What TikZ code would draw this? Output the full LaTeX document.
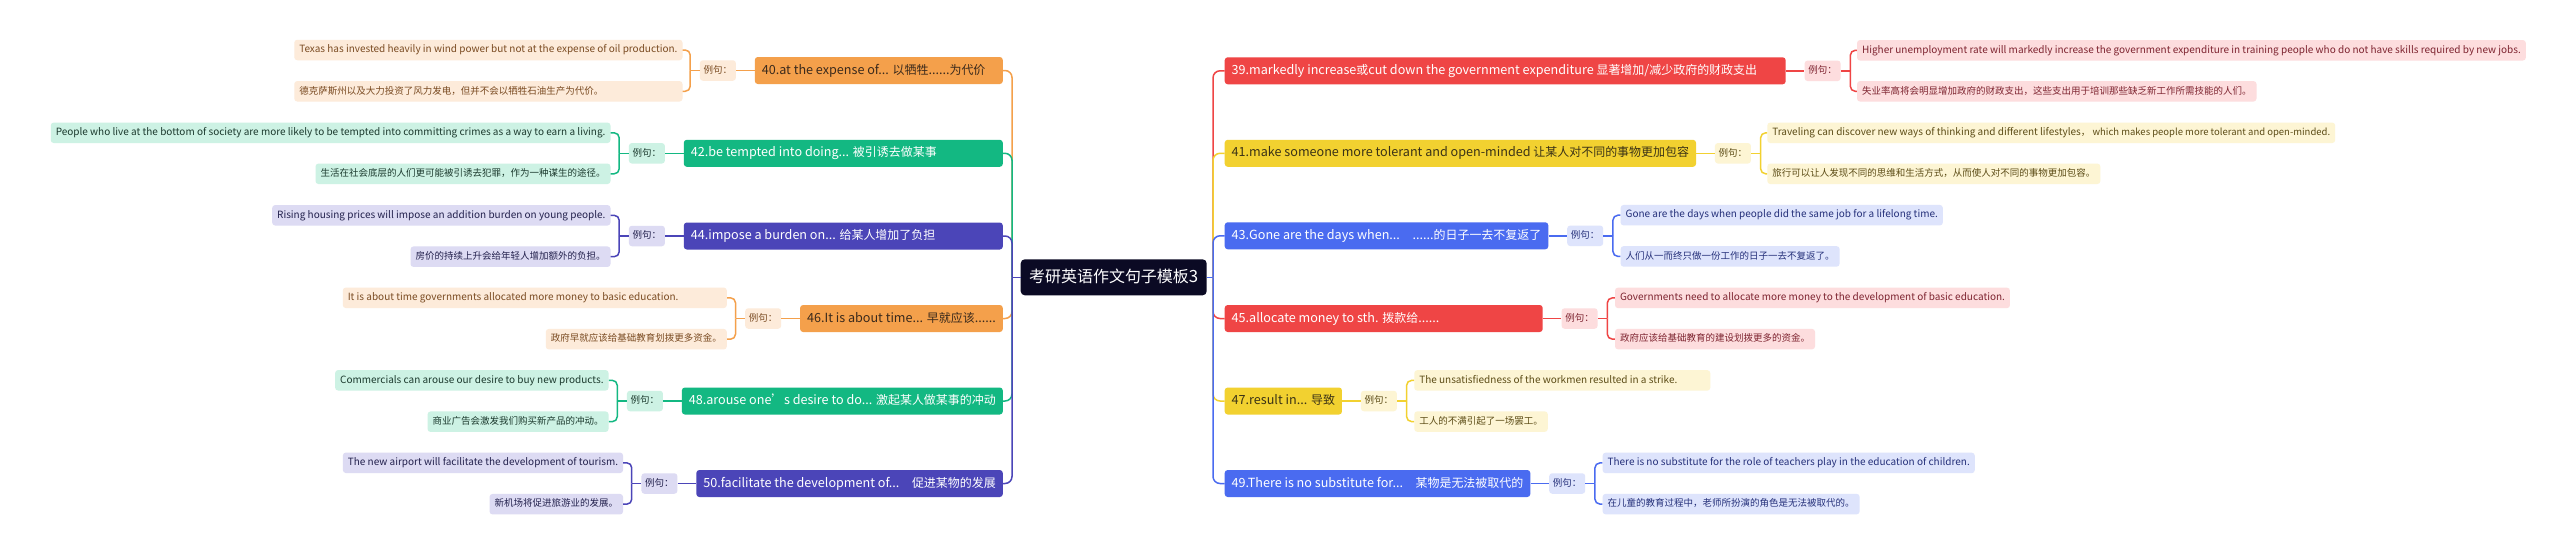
\documentclass[tikz,border=0pt]{standalone}
\usepackage{fontspec}
\setmainfont{Noto Sans CJK SC}
\newfontfamily\cjkfont{Noto Sans CJK SC}[Scale=0.95]
\newfontfamily\latfont{Noto Sans CJK SC}
\XeTeXinterchartokenstate=1
\newXeTeXintercharclass\CJKclass
\newcount\cjkc
\def\setcjkrange#1#2{\cjkc=#1\relax\loop\XeTeXcharclass\cjkc=\CJKclass\relax\ifnum\cjkc<#2\relax\advance\cjkc by 1\relax\repeat}
\setcjkrange{"4E00}{"9FFF}
\setcjkrange{"3000}{"303F}
\setcjkrange{"FF00}{"FFEF}
\XeTeXinterchartoks 0 \CJKclass = {\cjkfont}
\XeTeXinterchartoks 4095 \CJKclass = {\cjkfont}
\XeTeXinterchartoks \CJKclass 0 = {\latfont}
\usetikzlibrary{calc}
\definecolor{cOr}{HTML}{F4A04B}
\definecolor{cOrL}{HTML}{FDEBDA}
\definecolor{cOrT}{HTML}{7A4B22}
\definecolor{cOrN}{HTML}{3B2A1C}
\definecolor{cGr}{HTML}{13B882}
\definecolor{cGrL}{HTML}{CDF2E4}
\definecolor{cGrT}{HTML}{1C3A2E}
\definecolor{cIn}{HTML}{4B45B8}
\definecolor{cInL}{HTML}{DDDBF3}
\definecolor{cInT}{HTML}{23214D}
\definecolor{cRe}{HTML}{EF4545}
\definecolor{cReL}{HTML}{FDDDDE}
\definecolor{cReT}{HTML}{7E2430}
\definecolor{cYe}{HTML}{F2D130}
\definecolor{cYeL}{HTML}{FDF5D4}
\definecolor{cYeT}{HTML}{5C4C16}
\definecolor{cYeN}{HTML}{3A3216}
\definecolor{cBl}{HTML}{4A6BF0}
\definecolor{cBlL}{HTML}{DEE4FC}
\definecolor{cBlT}{HTML}{25307A}
\definecolor{cCe}{HTML}{0B0A24}
\newlength\wtexas
\begin{document}
\settowidth\wtexas{\fontsize{10}{12}\selectfont Texas has invested heavily in wind power but not at the expense of oil production.}%
\begin{tikzpicture}[x=1pt,y=-1pt,
  mainbox/.style={rounded corners=3pt, minimum height=27pt, inner xsep=7pt, inner ysep=0pt, text height=9.6pt, text depth=2.6pt, font=\fontsize{12.6}{15}\selectfont},
  exbox/.style={rounded corners=3pt, minimum height=20.5pt, inner xsep=5pt, inner ysep=0pt, text height=7.4pt, text depth=2pt, font=\fontsize{10}{12}\selectfont},
  libox/.style={rounded corners=3pt, minimum height=20.5pt, minimum width=36pt, inner xsep=2pt, inner ysep=0pt, text height=7.4pt, text depth=2pt, font=\fontsize{10}{12}\selectfont},
  trunk/.style={line width=1.5pt, rounded corners=7pt},
  brace/.style={line width=1.5pt, rounded corners=5pt},
  link/.style={line width=1.5pt},
]
\fill[white] (0,0) rectangle (2560,555);
\useasboundingbox (0,0) rectangle (2560,555);

% centre
\node[fill=cCe, text=white, rounded corners=4pt, minimum height=36pt, inner xsep=8.5pt, inner ysep=0pt, text height=12.5pt, text depth=3pt, font=\fontsize{16.8}{19}\selectfont] (c) at (1113.7,277.3) {考研英语作文句子模板3};
\coordinate (LT) at (1012,277.3);
\coordinate (RT) at (1213,277.3);

% ---------- left side ----------
% 40
\node[mainbox, fill=cOr, text=cOrN, anchor=east] (n40) at (1003,70.5) {\makebox[234pt][l]{40.at the expense of... 以牺牲......为代价}};
\node[libox, fill=cOrL, text=cOrT, anchor=east] (l40) at ($(n40.west)+(-18.5,0)$) {例句：};
\coordinate (b40) at ($(l40.west)+(-9.5,0)$);
\node[exbox, fill=cOrL, text=cOrT, anchor=east] (e40a) at ($(b40)+(-7.5,-20.5)$) {Texas has invested heavily in wind power but not at the expense of oil production.};
\node[exbox, fill=cOrL, text=cOrT, anchor=east] (e40b) at ($(b40)+(-7.5,20.8)$) {\makebox[\wtexas][l]{德克萨斯州以及大力投资了风力发电，但并不会以牺牲石油生产为代价。}};
% 42
\node[mainbox, fill=cGr, text=white, anchor=east] (n42) at (1003,153.3) {\makebox[305pt][l]{42.be tempted into doing... 被引诱去做某事}};
\node[libox, fill=cGrL, text=cGrT, anchor=east] (l42) at ($(n42.west)+(-18.5,0)$) {例句：};
\coordinate (b42) at ($(l42.west)+(-9.5,0)$);
\node[exbox, fill=cGrL, text=cGrT, anchor=east] (e42a) at ($(b42)+(-8.5,-20.5)$) {People who live at the bottom of society are more likely to be tempted into committing crimes as a way to earn a living.};
\node[exbox, fill=cGrL, text=cGrT, anchor=east] (e42b) at ($(b42)+(-8.5,20.5)$) {生活在社会底层的人们更可能被引诱去犯罪，作为一种谋生的途径。};
% 44
\node[mainbox, fill=cIn, text=white, anchor=east] (n44) at (1003,236) {\makebox[305pt][l]{44.impose a burden on... 给某人增加了负担}};
\node[libox, fill=cInL, text=cInT, anchor=east] (l44) at ($(n44.west)+(-18.5,0)$) {例句：};
\coordinate (b44) at ($(l44.west)+(-9.5,0)$);
\node[exbox, fill=cInL, text=cInT, anchor=east] (e44a) at ($(b44)+(-8.5,-20.7)$) {Rising housing prices will impose an addition burden on young people.};
\node[exbox, fill=cInL, text=cInT, anchor=east] (e44b) at ($(b44)+(-8.5,20.7)$) {房价的持续上升会给年轻人增加额外的负担。};
% 46
\node[mainbox, fill=cOr, text=cOrN, anchor=east] (n46) at (1003,318.5) {46.It is about time... 早就应该......};
\node[libox, fill=cOrL, text=cOrT, anchor=east] (l46) at ($(n46.west)+(-18.5,0)$) {例句：};
\coordinate (b46) at ($(l46.west)+(-9.5,0)$);
\node[exbox, fill=cOrL, text=cOrT, anchor=east] (e46a) at ($(b46)+(-8.5,-20.7)$) {\makebox[374pt][l]{It is about time governments allocated more money to basic education.}};
\node[exbox, fill=cOrL, text=cOrT, anchor=east] (e46b) at ($(b46)+(-8.5,20.7)$) {政府早就应该给基础教育划拨更多资金。};
% 48
\node[mainbox, fill=cGr, text=white, anchor=east] (n48) at (1003,401) {48.arouse one’s desire to do... 激起某人做某事的冲动};
\node[libox, fill=cGrL, text=cGrT, anchor=east] (l48) at ($(n48.west)+(-18.5,0)$) {例句：};
\coordinate (b48) at ($(l48.west)+(-9.5,0)$);
\node[exbox, fill=cGrL, text=cGrT, anchor=east] (e48a) at ($(b48)+(-8.5,-20.7)$) {Commercials can arouse our desire to buy new products.};
\node[exbox, fill=cGrL, text=cGrT, anchor=east] (e48b) at ($(b48)+(-8.5,20.7)$) {商业广告会激发我们购买新产品的冲动。};
% 50
\node[mainbox, fill=cIn, text=white, anchor=east] (n50) at (1003,483.5) {50.facilitate the development of...\hspace{1em}促进某物的发展};
\node[libox, fill=cInL, text=cInT, anchor=east] (l50) at ($(n50.west)+(-18.5,0)$) {例句：};
\coordinate (b50) at ($(l50.west)+(-9.5,0)$);
\node[exbox, fill=cInL, text=cInT, anchor=east] (e50a) at ($(b50)+(-8.5,-20.7)$) {The new airport will facilitate the development of tourism.};
\node[exbox, fill=cInL, text=cInT, anchor=east] (e50b) at ($(b50)+(-8.5,20.7)$) {新机场将促进旅游业的发展。};

% ---------- right side ----------
% 39
\node[mainbox, fill=cRe, text=white, anchor=west] (n39) at (1224.5,70.8) {\makebox[547pt][l]{39.markedly increase或cut down the government expenditure 显著增加/减少政府的财政支出}};
\node[libox, fill=cReL, text=cReT, anchor=west] (l39) at ($(n39.east)+(18.5,0)$) {例句：};
\coordinate (b39) at ($(l39.east)+(9.5,0)$);
\node[exbox, fill=cReL, text=cReT, anchor=west] (e39a) at ($(b39)+(6.5,-20.5)$) {Higher unemployment rate will markedly increase the government expenditure in training people who do not have skills required by new jobs.};
\node[exbox, fill=cReL, text=cReT, anchor=west] (e39b) at ($(b39)+(6.5,20.5)$) {失业率高将会明显增加政府的财政支出，这些支出用于培训那些缺乏新工作所需技能的人们。};
% 41
\node[mainbox, fill=cYe, text=cYeN, anchor=west] (n41) at (1224.5,153.3) {41.make someone more tolerant and open-minded 让某人对不同的事物更加包容};
\node[libox, fill=cYeL, text=cYeT, anchor=west] (l41) at ($(n41.east)+(18.5,0)$) {例句：};
\coordinate (b41) at ($(l41.east)+(9.5,0)$);
\node[exbox, fill=cYeL, text=cYeT, anchor=west] (e41a) at ($(b41)+(6.5,-20.5)$) {Traveling can discover new ways of thinking and different lifestyles，\ which makes people more tolerant and open-minded.};
\node[exbox, fill=cYeL, text=cYeT, anchor=west] (e41b) at ($(b41)+(6.5,20.5)$) {旅行可以让人发现不同的思维和生活方式，从而使人对不同的事物更加包容。};
% 43
\node[mainbox, fill=cBl, text=white, anchor=west] (n43) at (1224.5,235.8) {43.Gone are the days when...\hspace{1em}......的日子一去不复返了};
\node[libox, fill=cBlL, text=cBlT, anchor=west] (l43) at ($(n43.east)+(18.5,0)$) {例句：};
\coordinate (b43) at ($(l43.east)+(9.5,0)$);
\node[exbox, fill=cBlL, text=cBlT, anchor=west] (e43a) at ($(b43)+(7.5,-20.6)$) {Gone are the days when people did the same job for a lifelong time.};
\node[exbox, fill=cBlL, text=cBlT, anchor=west] (e43b) at ($(b43)+(7.5,20.6)$) {人们从一而终只做一份工作的日子一去不复返了。};
% 45
\node[mainbox, fill=cRe, text=white, anchor=west] (n45) at (1224.5,318.5) {\makebox[304pt][l]{45.allocate money to sth. 拨款给......}};
\node[libox, fill=cReL, text=cReT, anchor=west] (l45) at ($(n45.east)+(18.5,0)$) {例句：};
\coordinate (b45) at ($(l45.east)+(9.5,0)$);
\node[exbox, fill=cReL, text=cReT, anchor=west] (e45a) at ($(b45)+(7.5,-20.6)$) {Governments need to allocate more money to the development of basic education.};
\node[exbox, fill=cReL, text=cReT, anchor=west] (e45b) at ($(b45)+(7.5,20.6)$) {政府应该给基础教育的建设划拨更多的资金。};
% 47
\node[mainbox, fill=cYe, text=cYeN, anchor=west] (n47) at (1224.5,401) {47.result in... 导致};
\node[libox, fill=cYeL, text=cYeT, anchor=west] (l47) at ($(n47.east)+(18.5,0)$) {例句：};
\coordinate (b47) at ($(l47.east)+(9.5,0)$);
\node[exbox, fill=cYeL, text=cYeT, anchor=west] (e47a) at ($(b47)+(7.5,-20.6)$) {\makebox[286pt][l]{The unsatisfiedness of the workmen resulted in a strike.}};
\node[exbox, fill=cYeL, text=cYeT, anchor=west] (e47b) at ($(b47)+(7.5,20.6)$) {工人的不满引起了一场罢工。};
% 49
\node[mainbox, fill=cBl, text=white, anchor=west] (n49) at (1224.5,483.5) {49.There is no substitute for...\hspace{1em}某物是无法被取代的};
\node[libox, fill=cBlL, text=cBlT, anchor=west] (l49) at ($(n49.east)+(18.5,0)$) {例句：};
\coordinate (b49) at ($(l49.east)+(9.5,0)$);
\node[exbox, fill=cBlL, text=cBlT, anchor=west] (e49a) at ($(b49)+(7.5,-20.6)$) {There is no substitute for the role of teachers play in the education of children.};
\node[exbox, fill=cBlL, text=cBlT, anchor=west] (e49b) at ($(b49)+(7.5,20.6)$) {在儿童的教育过程中，老师所扮演的角色是无法被取代的。};

% ---------- connectors (in numeric order) ----------
\draw[trunk, cRe] (n39.west) -| (RT);
\draw[trunk, cOr] (n40.east) -| (LT);
\draw[trunk, cYe] (n41.west) -| (RT);
\draw[trunk, cGr] (n42.east) -| (LT);
\draw[trunk, cBl] (n43.west) -| (RT);
\draw[trunk, cIn] (n44.east) -| (LT);
\draw[trunk, cRe] (n45.west) -| (RT);
\draw[trunk, cOr] (n46.east) -| (LT);
\draw[trunk, cYe] (n47.west) -| (RT);
\draw[trunk, cGr] (n48.east) -| (LT);
\draw[trunk, cBl] (n49.west) -| (RT);
\draw[trunk, cIn] (n50.east) -| (LT);
\draw[link, cIn] (c.west) -- (LT);
\draw[link, cBl] (c.east) -- (RT);

% example braces, left
\foreach \k/\col in {40/cOr,42/cGr,44/cIn,46/cOr,48/cGr,50/cIn}{
  \draw[link, \col] (l\k.east) -- (n\k.west);
  \draw[link, \col] (b\k) -- (l\k.west);
  \draw[brace, \col] (e\k a.east) -| (b\k);
  \draw[brace, \col] (e\k b.east) -| (b\k);
}
% example braces, right
\foreach \k/\col in {39/cRe,41/cYe,43/cBl,45/cRe,47/cYe,49/cBl}{
  \draw[link, \col] (n\k.east) -- (l\k.west);
  \draw[link, \col] (l\k.east) -- (b\k);
  \draw[brace, \col] (e\k a.west) -| (b\k);
  \draw[brace, \col] (e\k b.west) -| (b\k);
}
\end{tikzpicture}
\end{document}
